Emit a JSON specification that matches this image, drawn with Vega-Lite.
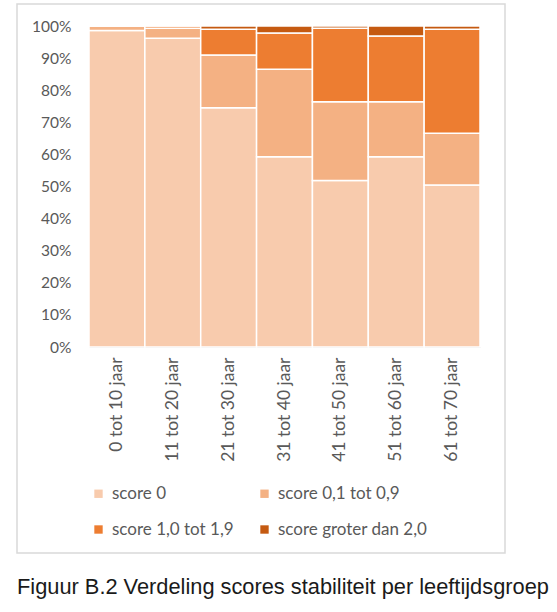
{
  "$schema": "https://vega.github.io/schema/vega-lite/v6.json",
  "width": 488,
  "height": 549,
  "autosize": "none",
  "padding": {"left": 17, "top": 4, "right": 52, "bottom": 59},
  "background": "white",
  "data": {
    "values": [
      {"groep": "0 tot 10 jaar", "score": "score 0", "pct": 98.6},
      {"groep": "0 tot 10 jaar", "score": "score 0,1 tot 0,9", "pct": 1.4},
      {"groep": "0 tot 10 jaar", "score": "score 1,0 tot 1,9", "pct": 0},
      {"groep": "0 tot 10 jaar", "score": "score groter dan 2,0", "pct": 0},
      {"groep": "11 tot 20 jaar", "score": "score 0", "pct": 96.2},
      {"groep": "11 tot 20 jaar", "score": "score 0,1 tot 0,9", "pct": 3.1},
      {"groep": "11 tot 20 jaar", "score": "score 1,0 tot 1,9", "pct": 0.7},
      {"groep": "11 tot 20 jaar", "score": "score groter dan 2,0", "pct": 0},
      {"groep": "21 tot 30 jaar", "score": "score 0", "pct": 74.5},
      {"groep": "21 tot 30 jaar", "score": "score 0,1 tot 0,9", "pct": 16.5},
      {"groep": "21 tot 30 jaar", "score": "score 1,0 tot 1,9", "pct": 8.0},
      {"groep": "21 tot 30 jaar", "score": "score groter dan 2,0", "pct": 1.0},
      {"groep": "31 tot 40 jaar", "score": "score 0", "pct": 59.3},
      {"groep": "31 tot 40 jaar", "score": "score 0,1 tot 0,9", "pct": 27.2},
      {"groep": "31 tot 40 jaar", "score": "score 1,0 tot 1,9", "pct": 11.3},
      {"groep": "31 tot 40 jaar", "score": "score groter dan 2,0", "pct": 2.2},
      {"groep": "41 tot 50 jaar", "score": "score 0", "pct": 51.9},
      {"groep": "41 tot 50 jaar", "score": "score 0,1 tot 0,9", "pct": 24.5},
      {"groep": "41 tot 50 jaar", "score": "score 1,0 tot 1,9", "pct": 22.9},
      {"groep": "41 tot 50 jaar", "score": "score groter dan 2,0", "pct": 0.7},
      {"groep": "51 tot 60 jaar", "score": "score 0", "pct": 59.3},
      {"groep": "51 tot 60 jaar", "score": "score 0,1 tot 0,9", "pct": 17.1},
      {"groep": "51 tot 60 jaar", "score": "score 1,0 tot 1,9", "pct": 20.5},
      {"groep": "51 tot 60 jaar", "score": "score groter dan 2,0", "pct": 3.1},
      {"groep": "61 tot 70 jaar", "score": "score 0", "pct": 50.5},
      {"groep": "61 tot 70 jaar", "score": "score 0,1 tot 0,9", "pct": 16.1},
      {"groep": "61 tot 70 jaar", "score": "score 1,0 tot 1,9", "pct": 32.4},
      {"groep": "61 tot 70 jaar", "score": "score groter dan 2,0", "pct": 1.0}
    ]
  },
  "title": {
    "text": "Figuur B.2 Verdeling scores stabiliteit per leeftijdsgroep",
    "orient": "bottom",
    "anchor": "start",
    "frame": "group",
    "offset": 24,
    "font": "Liberation Sans",
    "fontSize": 21.8,
    "fontWeight": "normal",
    "color": "#1a1a1a"
  },
  "mark": {"type": "bar", "stroke": "white", "strokeWidth": 1.5},
  "encoding": {
    "x": {
      "field": "groep",
      "type": "nominal",
      "sort": null,
      "scale": {"range": [72, 463], "paddingInner": 0, "paddingOuter": 0},
      "axis": {
        "title": null,
        "orient": "bottom",
        "offset": -206,
        "labelAngle": -90,
        "labelPadding": 10,
        "ticks": false,
        "domainColor": "#d9d9d9",
        "labelFont": "Lato",
        "labelFontSize": 17.5,
        "labelColor": "#595959"
      }
    },
    "y": {
      "field": "pct",
      "type": "quantitative",
      "stack": "normalize",
      "scale": {"range": [343, 22], "domain": [0, 1]},
      "axis": {
        "title": null,
        "orient": "left",
        "offset": -72,
        "format": ".0%",
        "values": [0, 0.1, 0.2, 0.3, 0.4, 0.5, 0.6, 0.7, 0.8, 0.9, 1],
        "grid": false,
        "domain": false,
        "ticks": false,
        "labelPadding": 18,
        "labelFont": "Lato",
        "labelFontSize": 15.5,
        "labelColor": "#595959"
      }
    },
    "color": {
      "field": "score",
      "type": "nominal",
      "scale": {
        "domain": ["score 0", "score 0,1 tot 0,9", "score 1,0 tot 1,9", "score groter dan 2,0"],
        "range": ["#f8cbad", "#f4b183", "#ed7d31", "#c55a11"]
      },
      "legend": {
        "title": null,
        "orient": "none",
        "legendX": 73,
        "legendY": 481,
        "direction": "horizontal",
        "columns": 2,
        "columnPadding": 22,
        "rowPadding": 18,
        "symbolType": "square",
        "symbolSize": 70,
        "symbolStrokeWidth": 0,
        "symbolOffset": 0,
        "labelOffset": 5,
        "labelFont": "Lato",
        "labelFontSize": 17,
        "labelColor": "#595959"
      }
    },
    "order": {"field": "score", "sort": "ascending"}
  },
  "config": {
    "view": {"stroke": "#d9d9d9", "strokeWidth": 1.5}
  }
}
